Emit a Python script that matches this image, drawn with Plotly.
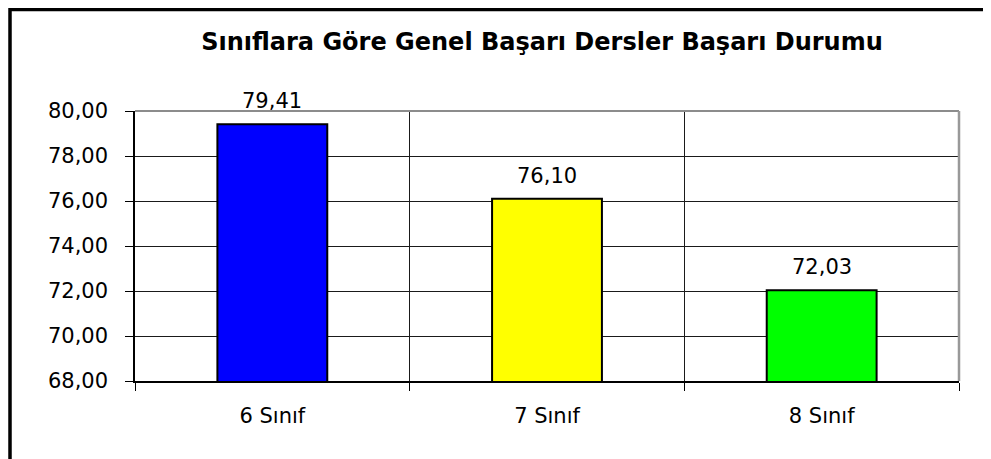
import plotly.graph_objects as go

categories = ["6 Sınıf", "7 Sınıf", "8 Sınıf"]
values = [79.41, 76.10, 72.03]
bar_colors = ["#0000FF", "#FFFF00", "#00FF00"]
y_ticks = [68, 70, 72, 74, 76, 78, 80]
title_text = "Sınıflara Göre Genel Başarı Dersler Başarı Durumu"

# the page body has an 8px margin, so lay out in page pixels and shift
OFF = 8
W, H = 991 - OFF, 459 - OFF
plot_left, plot_right, plot_top, plot_bottom = 135, 959, 111, 381
L, T = plot_left - OFF, plot_top - OFF
R, B = W - (plot_right - OFF), H - (plot_bottom - OFF)
pw, ph = plot_right - plot_left, plot_bottom - plot_top


def px_x(x):
    return (x - plot_left) / pw


def px_y(y):
    return (plot_bottom - y) / ph


fig = go.Figure()
fig.add_trace(go.Bar(
    x=categories,
    y=values,
    marker=dict(color=bar_colors, line=dict(color="black", width=2)),
    hoverinfo="skip",
))

# value labels above bars
for c, v in zip(categories, values):
    fig.add_annotation(
        x=c, y=v, text=f"{v:.2f}".replace(".", ","),
        showarrow=False, yanchor="middle", yshift=23,
        font=dict(family="DejaVu Sans", size=21, color="black"),
    )

# plot area border (top/right gray)
fig.add_shape(type="line", xref="paper", yref="paper", x0=0, x1=1, y0=1, y1=1,
              line=dict(color="#8c8c8c", width=2), layer="above")
fig.add_shape(type="line", xref="paper", yref="paper", x0=1, x1=1, y0=0, y1=1,
              line=dict(color="#999999", width=2.5), layer="above")

# chart outer frame
fig.add_shape(type="rect", xref="paper", yref="paper",
              x0=px_x(10), x1=px_x(987.5), y0=-0.5, y1=px_y(OFF + 1.5),
              line=dict(color="black", width=3.5), layer="above")

fig.update_layout(
    width=W, height=H,
    margin=dict(l=L, r=R, t=T, b=B),
    paper_bgcolor="white", plot_bgcolor="white",
    separators=",.",
    bargap=0.6,
    showlegend=False,
    font=dict(family="DejaVu Sans", size=21, color="black"),
    title=dict(
        text=title_text, x=px_x(542), xref="paper", xanchor="center",
        y=1 - (42 - OFF) / H, yref="container", yanchor="middle",
        font=dict(family="DejaVu Sans", size=24, color="black", weight="bold"),
    ),
    xaxis=dict(
        type="category", tickson="boundaries",
        showgrid=True, gridcolor="#1a1a1a", gridwidth=1,
        showline=True, linecolor="black", linewidth=1.5,
        ticks="outside", ticklen=8, tickcolor="black",
        ticklabelstandoff=15,
        tickfont=dict(family="DejaVu Sans", size=21, color="black"),
    ),
    yaxis=dict(
        range=[68, 80], tickvals=y_ticks, tickformat=".2f",
        showgrid=True, gridcolor="#1a1a1a", gridwidth=1,
        showline=True, linecolor="black", linewidth=1.5,
        ticks="outside", ticklen=8, tickcolor="black",
        ticklabelstandoff=13, zeroline=False,
        tickfont=dict(family="DejaVu Sans", size=21, color="black"),
    ),
)

fig.write_html("out.html")
